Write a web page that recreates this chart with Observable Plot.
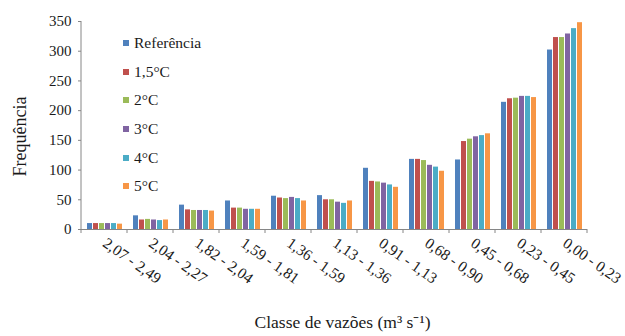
<!DOCTYPE html>
<html>
<head>
<meta charset="utf-8">
<script src="https://cdn.jsdelivr.net/npm/d3@7"></script>
<script src="https://cdn.jsdelivr.net/npm/@observablehq/plot@0.6"></script>
<style>
  body { margin: 0; background: #fff; }
  #chart { position: relative; width: 625px; height: 336px; }
  .legend { position: absolute; left: 123px; top: 29px; font-family: "Liberation Serif", serif; font-size: 15.5px; color: #1a1a1a; }
  .legend .row { height: 28.6px; display: flex; align-items: center; }
  .legend .sw { display: inline-block; width: 6px; height: 6px; margin-right: 5px; }
</style>
</head>
<body>
<div id="chart"></div>
<script>
const categories = ["2,07 - 2,49","2,04 - 2,27","1,82 - 2,04","1,59 - 1,81","1,36 - 1,59","1,13 - 1,36","0,91 - 1,13","0,68 - 0,90","0,45 - 0,68","0,23 - 0,45","0,00 - 0,23"];
const seriesNames = ["Referência","1,5°C","2°C","3°C","4°C","5°C"];
const colors = ["#4F81BD","#C0504D","#9BBB59","#8064A2","#4BACC6","#F79646"];
const referencia = [10,23,41,48,56,57,103,118,117,214,302];
const c15 = [10,16,33,36,53,50,81,118,148,220,323];
const c2  = [10,17,32,36,52,50,80,116,152,221,323];
const c3  = [10,16,32,34,54,46,78,108,156,224,329];
const c4  = [10,15,32,34,52,44,75,105,158,224,338];
const c5  = [9,16,31,34,48,48,71,98,161,222,348];
const yTicks = [0,50,100,150,200,250,300,350];
const xTitle = "Classe de vazões (m³ s⁻¹)";
const yTitle = "Frequência";

const seriesValues = [referencia, c15, c2, c3, c4, c5];
const data = [];
seriesNames.forEach((s, i) => categories.forEach((c, j) => data.push({cat: c, series: s, value: seriesValues[i][j]})));

const plot = Plot.plot({
  width: 625, height: 336,
  marginLeft: 78, marginRight: 36, marginTop: 21, marginBottom: 107,
  style: {fontFamily: "'Liberation Serif', serif", fontSize: "15px", color: "#1a1a1a", background: "white", overflow: "visible"},
  fx: {domain: categories, padding: 0},
  x: {domain: seriesNames, paddingInner: 0.25, paddingOuter: 0.85, axis: null},
  y: {domain: [0, 350]},
  color: {domain: seriesNames, range: colors},
  marks: [
    Plot.barY(data, {fx: "cat", x: "series", y: "value", fill: "series"}),
    Plot.ruleY([0], {stroke: "#868686"}),
    Plot.axisY({ticks: yTicks, tickSize: 3, tickPadding: 7, stroke: "#868686", label: yTitle, labelAnchor: "center", labelArrow: "none", labelOffset: 68}),
    Plot.axisFx({anchor: "bottom", tickRotate: 35, tickSize: 0, tickPadding: 12, fontSize: 15.5, label: xTitle, labelAnchor: "center", labelArrow: "none", labelOffset: 98})
  ]
});

const svg = d3.select(plot);
svg.selectAll('g[aria-label="y-axis label"] text').style("font-size", "18px");
svg.selectAll('g[aria-label="fx-axis label"] text').style("font-size", "17.5px");
const yl = svg.select('g[aria-label="y-axis label"]');
if (!yl.empty()) {
  const wrap = svg.append("g").attr("transform", "translate(0,11)");
  wrap.node().appendChild(yl.node());
}
const xl = svg.select('g[aria-label="fx-axis label"]');
if (!xl.empty()) {
  const wrap2 = svg.append("g").attr("transform", "translate(8,0)");
  wrap2.node().appendChild(xl.node());
}
const fx = plot.scale("fx");
const ys = plot.scale("y");
const x0 = fx.apply(categories[0]) - (fx.step - fx.bandwidth) / 2;
svg.append("line").attr("x1", x0).attr("x2", x0).attr("y1", ys.apply(350)).attr("y2", ys.apply(0)).attr("stroke", "#868686");
const yb = ys.apply(0);
categories.forEach((c, i) => {
  const xs = [fx.apply(c)];
  if (i === categories.length - 1) xs.push(fx.apply(c) + fx.step);
  xs.forEach(xv => svg.append("line").attr("x1", xv).attr("x2", xv).attr("y1", yb).attr("y2", yb + 4).attr("stroke", "#868686"));
});

const chart = document.getElementById("chart");
chart.appendChild(plot);
const legend = document.createElement("div");
legend.className = "legend";
seriesNames.forEach((s, i) => {
  const row = document.createElement("div");
  row.className = "row";
  const sw = document.createElement("span");
  sw.className = "sw";
  sw.style.background = colors[i];
  row.appendChild(sw);
  row.appendChild(document.createTextNode(s));
  legend.appendChild(row);
});
chart.appendChild(legend);
</script>
</body>
</html>
